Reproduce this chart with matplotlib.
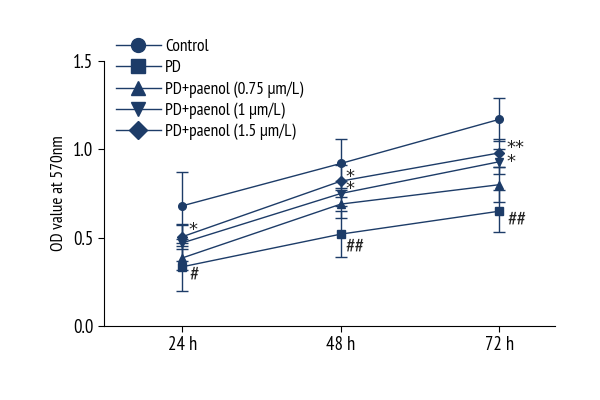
import matplotlib.pyplot as plt
from matplotlib.lines import Line2D

plt.rcParams['font.family'] = ['PT Sans Narrow', 'DejaVu Sans']

hours = [24, 48, 72]
xlabels = ['24 h', '48 h', '72 h']
groups = ['Control', 'PD', 'PD+paenol (0.75 μm/L)', 'PD+paenol (1 μm/L)', 'PD+paenol (1.5 μm/L)']
control = [0.68, 0.92, 1.17]
pd_only = [0.335, 0.52, 0.65]
pae_075 = [0.385, 0.69, 0.80]
pae_1 = [0.47, 0.75, 0.93]
pae_15 = [0.505, 0.82, 0.98]
err_control = [0.19, 0.14, 0.12]
err_pd = [0.135, 0.13, 0.12]
err_075 = [0.07, 0.08, 0.10]
err_1 = [0.10, 0.07, 0.07]
err_15 = [0.07, 0.09, 0.08]
# significance marks: text, x, y (last line baseline), line spacing
stars = [('*', 25.0, 0.515, 1.0), ('*\n*', 48.7, 0.747, 0.57), ('**\n*', 73.05, 0.90, 0.71)]
hashes = [('#', 25.1, 0.29), ('##', 48.7, 0.445), ('##', 73.2, 0.60)]

col = '#1d3c68'
fig = plt.figure(figsize=(6, 4), dpi=100)
ax = fig.add_axes([0.173, 0.185, 0.752, 0.6625])

series = [(control, err_control, 'o'), (pd_only, err_pd, 's'), (pae_075, err_075, '^'),
          (pae_1, err_1, 'v'), (pae_15, err_15, 'D')]
handles = []
for (vals, err, m), name in zip(series, groups):
    ax.errorbar(hours, vals, yerr=err, color=col, marker=m, markersize=5.5 if m != 'D' else 5,
                lw=1.0, capsize=4, capthick=1.0, elinewidth=1.0)
    handles.append(Line2D([], [], color=col, marker=m, lw=1.0,
                          markersize=10 if m != 'D' else 9, label=name))

for txt, x, y, ls in stars:
    ax.text(x, y, txt, fontsize=13, family='DejaVu Sans', color='#222222',
            va='baseline', ha='left', linespacing=ls)
for txt, x, y in hashes:
    ax.text(x, y, txt, fontsize=15.5, color='#222222', va='center', ha='left')

ax.set_xlim(12.15, 80.4)
ax.set_ylim(0, 1.5)
ax.set_xticks(hours)
ax.set_xticklabels(xlabels, fontsize=13.5)
ax.set_yticks([0.0, 0.5, 1.0, 1.5])
ax.set_yticklabels(['0.0', '0.5', '1.0', '1.5'], fontsize=13.5)
ax.set_ylabel('OD value at 570nm', fontsize=12.5)
ax.spines['top'].set_visible(False)
ax.spines['right'].set_visible(False)
ax.tick_params(direction='out', length=4)

ax.legend(handles=handles, loc='upper left', bbox_to_anchor=(0.193, 0.902),
          bbox_transform=fig.transFigure, frameon=False, fontsize=12.5,
          handlelength=2.6, handletextpad=0.25, labelspacing=0.28,
          borderaxespad=0, borderpad=0)

fig.savefig('out.png', dpi=100)
